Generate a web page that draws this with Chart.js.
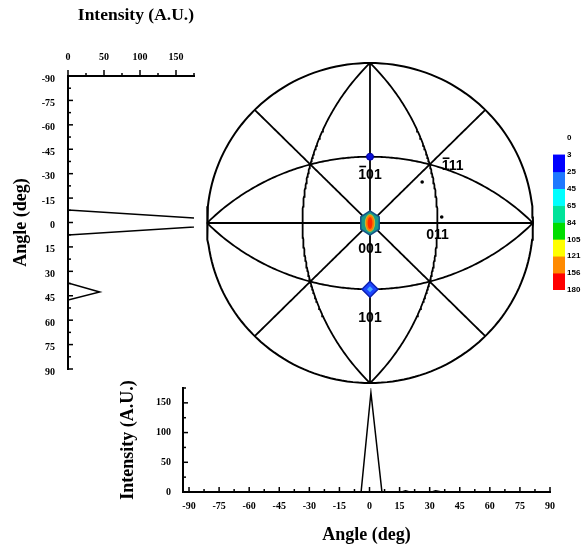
<!DOCTYPE html>
<html>
<head>
<meta charset="utf-8">
<script src="https://cdn.jsdelivr.net/npm/chart.js@4.4.0/dist/chart.umd.min.js"></script>
<style>
body { margin: 0; background: #fff; }
#wrap { position: relative; width: 586px; height: 552px; }
canvas { position: absolute; }
</style>
</head>
<body>
<div id="wrap">
<canvas id="leftChart" width="200" height="385" style="left:0;top:0"></canvas>
<canvas id="poleChart" width="345" height="340" style="left:200px;top:55px"></canvas>
<canvas id="bottomChart" width="486" height="174" style="left:100px;top:378px"></canvas>
<canvas id="scaleChart" width="40" height="172" style="left:546px;top:128px"></canvas>
</div>
<script>
// left profile: intensity against angle (drawn sideways)
const leftAngles = [-90, -7.7, 0, 7.7, 37.2, 42.7, 47.6, 90];
const leftIntensity = [0, 0, 269, 0, 0, 44, 0, 0];

// bottom profile
const bottomAngles = [-93, -4.2, 0.7, 6.2, 16, 18, 20, 31, 33, 36, 90];
const bottomIntensity = [0, 0, 167, 0, 0, 2, 0, 0, 2, 0, 0];

// tick values
const angleMajor = [-90, -75, -60, -45, -30, -15, 0, 15, 30, 45, 60, 75, 90];
const leftIntTicks = [0, 25, 50, 75, 100, 125, 150, 175];
const bottomIntTicks = [0, 25, 50, 75, 100, 125, 150, 175];

// pole figure: traces of the cubic planes and the labelled poles
const planes = [[0,0,1],[1,0,0],[0,1,0],[1,1,0],[1,-1,0],[1,0,1],[1,0,-1],[0,1,1],[0,1,-1]];
const poleHKL = [[-1,0,1],[0,0,1],[0,1,1],[1,0,1],[-1,1,1]];
const poleText = ['101', '001', '011', '101', '111'];
const poleBar = [true, false, false, false, true];
const weakX = [0.32, 0.44];
const weakY = [0.256, 0.0375];

// colour scale
const scaleLabels = ['0', '3', '25', '45', '65', '84', '105', '121', '156', '180'];
const scaleColors = ['#0000ff', '#1e78ff', '#00ffff', '#00e39a', '#00dd00', '#ffff00', '#ff8a00', '#ff0000'];

const serif = '"Liberation Serif", "Times New Roman", serif';
const tickFont = { family: serif, size: 10, weight: 'bold' };
const titleFont = { family: serif, size: 18, weight: 'bold' };

// every 7.5 deg, labels only on the majors
let angleTicks = [];
angleMajor.forEach((v, i) => {
  angleTicks.push(v);
  if (i < angleMajor.length - 1) angleTicks.push(v + 7.5);
});

// small tick marks that sit on the axis line
const crossTicks = {
  id: 'crossTicks',
  afterDraw(chart, args, opts) {
    const ctx = chart.ctx;
    ctx.save();
    ctx.strokeStyle = '#000';
    ctx.lineWidth = 1.5;
    ['x', 'y'].forEach(id => {
      const s = chart.scales[id];
      const o = opts[id];
      if (!s || !o) return;
      s.ticks.forEach(t => {
        const len = t.label === '' ? o.minor : o.major;
        const p = s.getPixelForValue(t.value);
        ctx.beginPath();
        if (s.isHorizontal()) {
          const y0 = s.position === 'top' ? s.bottom : s.top;
          ctx.moveTo(p, y0); ctx.lineTo(p, y0 + o.dir * len);
        } else {
          const x0 = s.position === 'left' ? s.right : s.left;
          ctx.moveTo(x0, p); ctx.lineTo(x0 + o.dir * len, p);
        }
        ctx.stroke();
      });
    });
    ctx.restore();
  }
};

function setTicks(list) {
  return s => { s.ticks = list.map(v => ({ value: v })); };
}
// fixed box size, no extra room for end labels
function fixBox(size) {
  return s => {
    if (s.isHorizontal()) s.height = size; else s.width = size;
    s.paddingTop = 0; s.paddingBottom = 0; s.paddingLeft = 0; s.paddingRight = 0;
  };
}

// ******* left profile *******
new Chart(document.getElementById('leftChart'), {
  type: 'scatter',
  data: {
    datasets: [{
      data: leftAngles.map((a, i) => ({ x: leftIntensity[i], y: a })),
      showLine: true, borderColor: '#000', borderWidth: 1.5, pointRadius: 0
    }]
  },
  options: {
    responsive: false, animation: false,
    layout: { autoPadding: false, padding: { left: 0, top: 0, right: 6, bottom: 16 } },
    plugins: {
      legend: { display: false }, tooltip: { enabled: false },
      crossTicks: { x: { dir: -1, major: 6, minor: 3 }, y: { dir: 1, major: 5, minor: 3 } }
    },
    scales: {
      x: {
        type: 'linear', position: 'top', min: 0, max: 175,
        afterBuildTicks: setTicks(leftIntTicks),
        afterFit: fixBox(76),
        ticks: { callback: v => (v % 50 === 0 ? String(v) : ''), font: tickFont, color: '#000', padding: 13, autoSkip: false, maxRotation: 0 },
        grid: { drawOnChartArea: false, drawTicks: false },
        border: { color: '#000', width: 2 },
        title: { display: true, text: 'Intensity (A.U.)', align: 'end', font: { family: serif, size: 17.5, weight: 'bold' }, color: '#000', padding: { top: 5 } }
      },
      y: {
        type: 'linear', reverse: true, min: -90, max: 90,
        afterBuildTicks: setTicks(angleTicks),
        afterFit: fixBox(68),
        ticks: { callback: v => (v % 15 === 0 ? String(v) : ''), font: tickFont, color: '#000', padding: 13, labelOffset: 3, autoSkip: false },
        grid: { drawOnChartArea: false, drawTicks: false },
        border: { color: '#000', width: 2 },
        title: { display: true, text: 'Angle (deg)', font: titleFont, color: '#000', padding: { top: 11 } }
      }
    }
  },
  plugins: [crossTicks]
});

// ******* bottom profile *******
new Chart(document.getElementById('bottomChart'), {
  type: 'scatter',
  data: {
    datasets: [{
      data: bottomAngles.map((a, i) => ({ x: a, y: bottomIntensity[i] })),
      showLine: true, borderColor: '#000', borderWidth: 1.5, pointRadius: 0
    }]
  },
  options: {
    responsive: false, animation: false,
    layout: { autoPadding: false, padding: { left: 0, top: 10, right: 36, bottom: 0 } },
    plugins: {
      legend: { display: false }, tooltip: { enabled: false },
      crossTicks: { x: { dir: -1, major: 5, minor: 3 }, y: { dir: 1, major: 5, minor: 3 } }
    },
    scales: {
      x: {
        type: 'linear', min: -93, max: 90,
        afterBuildTicks: setTicks(angleTicks),
        afterFit: fixBox(60),
        ticks: { callback: v => (v % 15 === 0 ? String(v) : ''), font: tickFont, color: '#000', padding: 8, autoSkip: false, maxRotation: 0 },
        grid: { drawOnChartArea: false, drawTicks: false },
        border: { color: '#000', width: 2 },
        title: { display: true, text: 'Angle (deg)', font: titleFont, color: '#000', padding: { bottom: 6 } }
      },
      y: {
        type: 'linear', min: 0, max: 175,
        afterBuildTicks: setTicks(bottomIntTicks),
        afterFit: fixBox(83),
        ticks: { callback: v => (v % 50 === 0 ? String(v) : ''), font: tickFont, color: '#000', padding: 12, autoSkip: false },
        grid: { drawOnChartArea: false, drawTicks: false },
        border: { color: '#000', width: 2 },
        title: { display: true, text: 'Intensity (A.U.)', font: titleFont, color: '#000', padding: { top: 18 } }
      }
    }
  },
  plugins: [crossTicks]
});

// ******* pole figure *******
// miller index -> screen vector (right = k, up = -h, out = l)
function toScreen(hkl) { return [hkl[1], -hkl[0], hkl[2]]; }
function project(v) {
  const n = Math.hypot(v[0], v[1], v[2]);
  return { x: v[0] / n / (1 + v[2] / n), y: v[1] / n / (1 + v[2] / n) };
}
function greatCircle(hkl) {
  const n = toScreen(hkl);
  const len = Math.hypot(n[0], n[1], n[2]);
  const nn = n.map(c => c / len);
  let u, w, span;
  if (Math.abs(nn[2]) > 0.999) {
    u = [1, 0, 0]; w = [0, 1, 0]; span = 2 * Math.PI;
  } else {
    const ul = Math.hypot(nn[1], nn[0]);
    u = [nn[1] / ul, -nn[0] / ul, 0];
    w = [nn[1] * u[2] - nn[2] * u[1], nn[2] * u[0] - nn[0] * u[2], nn[0] * u[1] - nn[1] * u[0]];
    if (w[2] < 0) w = w.map(c => -c);
    span = Math.PI;
  }
  const pts = [];
  for (let i = 0; i <= 180; i++) {
    const t = span * i / 180;
    const v = [0, 1, 2].map(k => Math.cos(t) * u[k] + Math.sin(t) * w[k]);
    pts.push(project(v));
  }
  return pts;
}

function makeSpot() {
  const c = document.createElement('canvas');
  c.width = 22; c.height = 26;
  const g = c.getContext('2d');
  const hex = (rx, ry, col) => {
    g.beginPath();
    for (let i = 0; i < 6; i++) {
      const a = Math.PI / 2 + i * Math.PI / 3;
      const px = 11 + rx * Math.cos(a), py = 13 + ry * Math.sin(a);
      if (i) g.lineTo(px, py); else g.moveTo(px, py);
    }
    g.closePath(); g.fillStyle = col; g.fill();
  };
  const ell = (rx, ry, col) => {
    g.beginPath(); g.ellipse(11, 13, rx, ry, 0, 0, 2 * Math.PI); g.fillStyle = col; g.fill();
  };
  hex(11.5, 13, '#124f86');
  hex(9.8, 11.3, '#1a9a8a');
  ell(5.2, 9, '#b9c234');
  ell(4.2, 8, '#ff7a00');
  ell(2.4, 6, '#ff2a00');
  return c;
}

const top101 = project(toScreen(poleHKL[0]));
const mid001 = project(toScreen(poleHKL[1]));
const bot101 = project(toScreen(poleHKL[3]));

const poleLabels = {
  id: 'poleLabels',
  afterDatasetsDraw(chart) {
    const { ctx, scales: { x, y } } = chart;
    const shift = [[0, 18], [0, 26], [0, 12], [0, 29], [12, 2]];
    const alignLeft = [false, false, false, false, true];
    ctx.save();
    ctx.font = 'bold 14px "Liberation Sans", Arial, sans-serif';
    ctx.fillStyle = '#000';
    ctx.textBaseline = 'middle';
    ctx.textAlign = 'left';
    poleHKL.forEach((hkl, i) => {
      const p = project(toScreen(hkl));
      const px = x.getPixelForValue(p.x) + shift[i][0];
      const py = y.getPixelForValue(p.y) + shift[i][1];
      const wTxt = ctx.measureText(poleText[i]).width;
      const left = alignLeft[i] ? px : px - wTxt / 2;
      ctx.fillText(poleText[i], left, py);
      if (poleBar[i]) {
        const w1 = ctx.measureText('1').width;
        ctx.fillRect(left + 1, py - 9, w1 - 1, 1.6);
      }
    });
    ctx.restore();
  }
};

const poleSets = [
  { data: [mid001], pointStyle: makeSpot(), pointRadius: 11 },
  { data: [top101], pointStyle: 'circle', pointRadius: 3.5, backgroundColor: '#0a10d8', borderColor: '#0000a0', borderWidth: 1 },
  { data: [bot101], pointStyle: 'rectRot', pointRadius: 3, backgroundColor: '#4aa8ff', borderWidth: 0 },
  { data: [bot101], pointStyle: 'rectRot', pointRadius: 8, backgroundColor: '#1c46ff', borderColor: '#0c20b0', borderWidth: 1.5 },
  { data: weakX.map((v, i) => ({ x: v, y: weakY[i] })), pointStyle: 'circle', pointRadius: 1.8, backgroundColor: '#000', borderWidth: 0 }
].concat(planes.map(p => ({
  data: greatCircle(p), showLine: true, borderColor: '#000',
  borderWidth: p[2] === 1 && p[0] === 0 && p[1] === 0 ? 2 : 1.8, pointRadius: 0, clip: false
})));

new Chart(document.getElementById('poleChart'), {
  type: 'scatter',
  data: { datasets: poleSets },
  options: {
    responsive: false, animation: false,
    layout: { autoPadding: false, padding: { left: 7, top: 8, right: 12, bottom: 12 } },
    plugins: { legend: { display: false }, tooltip: { enabled: false } },
    scales: {
      x: { display: false, min: -1, max: 1 },
      y: { display: false, min: -1, max: 1 }
    }
  },
  plugins: [poleLabels]
});

// ******* colour scale *******
new Chart(document.getElementById('scaleChart'), {
  type: 'bar',
  data: {
    labels: [''],
    datasets: scaleColors.map(c => ({ data: [1], backgroundColor: c, borderWidth: 0, categoryPercentage: 1, barPercentage: 1 }))
  },
  options: {
    responsive: false, animation: false,
    layout: { autoPadding: false, padding: { left: 7, top: 10, right: 0, bottom: 10 } },
    plugins: { legend: { display: false }, tooltip: { enabled: false } },
    scales: {
      x: { display: false, stacked: true },
      y: {
        stacked: true, position: 'right', reverse: true, min: -1, max: 8,
        afterBuildTicks: setTicks(scaleLabels.map((_, i) => i - 1)),
        afterFit: fixBox(21),
        ticks: { callback: v => scaleLabels[v + 1], font: { family: '"Liberation Sans", Arial, sans-serif', size: 8, weight: 'bold' }, color: '#000', padding: 2, autoSkip: false },
        grid: { display: false, drawTicks: false },
        border: { display: false }
      }
    }
  }
});
</script>
</body>
</html>
